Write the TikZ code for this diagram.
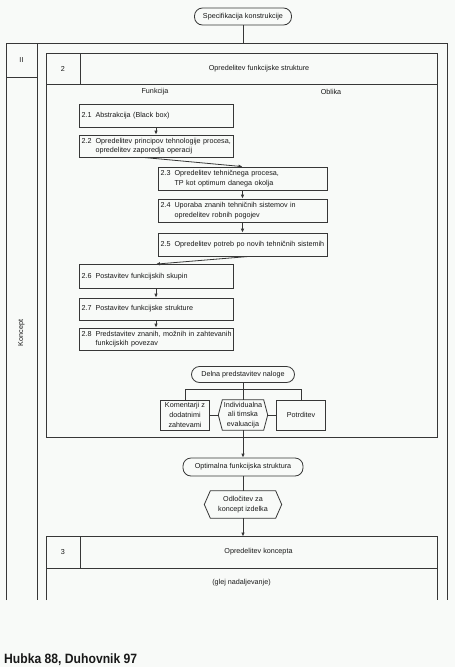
\documentclass[tikz,border=0pt]{standalone}
\usepackage{fontspec}
\setmainfont{Liberation Sans}
\usepackage{graphicx}
\usetikzlibrary{arrows.meta}
\definecolor{bg}{RGB}{248,250,248}
\definecolor{ln}{RGB}{55,55,55}
\definecolor{tx}{RGB}{25,25,25}
\newcommand\numtxt[2]{\begin{tabular}{@{}l@{\hspace{4pt}}l@{}}#1&#2\end{tabular}}
\newcommand\hexpath[2]{\draw[ln, line width=0.8pt] (#1.west) -- ([xshift=#2]#1.north west) -- ([xshift=-#2]#1.north east) -- (#1.east) -- ([xshift=-#2]#1.south east) -- ([xshift=#2]#1.south west) -- cycle;}
\begin{document}
\begin{tikzpicture}[x=1pt,y=-1pt,
  font=\fontsize{7.2}{9.3}\selectfont,
  every node/.style={text=tx},
  frame/.style={draw=ln, line width=0.8pt},
  numbox/.style={draw=ln, line width=0.8pt, inner xsep=2.5pt, inner ysep=0pt, align=left},
  wA/.style={text width=149pt},
  wB/.style={text width=164pt},
  cbox/.style={draw=ln, line width=0.8pt, inner sep=1pt, align=center, font=\fontsize{7.2}{9.7}\selectfont},
  hexbox/.style={inner sep=1pt, align=center, font=\fontsize{7.2}{9.7}\selectfont},
  term/.style={draw=ln, line width=0.8pt, rounded corners=8pt, inner sep=1pt},
  arr/.style={ln, line width=0.8pt, -{Latex[length=4pt,width=3.6pt]}},
  con/.style={ln, line width=0.8pt}]
\fill[bg] (0,0) rectangle (455,667);
\useasboundingbox (0,0) rectangle (455,667);

% top terminal
\node[term, minimum width=97pt, minimum height=17pt] (spec) at (243,16.5) {Specifikacija konstrukcije};

% outer frame
\coordinate (ftop) at (243,43);
\draw[frame] (6,600) -- (6,43) -- (447,43) -- (447,600);
\draw[frame] (37,43) -- (37,600);
\draw[frame] (6,77) -- (37,77);
\node (roman) at (21.5,60) {II};
\node[rotate=90] (koncept) at (21.5,333) {Koncept};

% box 2
\draw[frame] (46,53) rectangle (437.5,437);
\draw[frame] (46,84) -- (437.5,84);
\draw[frame] (80,53) -- (80,84);
\node (n2) at (63,68.5) {2};
\node (t2) at (259,68.5) {Opredelitev funkcijske strukture};
\node (funk) at (155,91.5) {Funkcija};
\node (obl) at (331,91.5) {Oblika};

\node[numbox, wA, minimum height=23pt] (b21) at (156,115.5) {\numtxt{2.1}{Abstrakcija (Black box)}};
\node[numbox, wA, minimum height=22pt] (b22) at (156,146) {\numtxt{2.2}{Opredelitev principov tehnologije procesa,\\ & opredelitev zaporedja operacij}};
\node[numbox, wB, minimum height=23pt] (b23) at (242.5,178.5) {\numtxt{2.3}{Opredelitev tehničnega procesa,\\ & TP kot optimum danega okolja}};
\node[numbox, wB, minimum height=23pt] (b24) at (242.5,210.5) {\numtxt{2.4}{Uporaba znanih tehničnih sistemov in\\ & opredelitev robnih pogojev}};
\node[numbox, wB, minimum height=23pt] (b25) at (242.5,244.5) {\numtxt{2.5}{Opredelitev potreb po novih tehničnih sistemih}};
\node[numbox, wA, minimum height=24pt] (b26) at (156,276.5) {\numtxt{2.6}{Postavitev funkcijskih skupin}};
\node[numbox, wA, minimum height=22pt] (b27) at (156,309) {\numtxt{2.7}{Postavitev funkcijske strukture}};
\node[numbox, wA, minimum height=22pt] (b28) at (156,339) {\numtxt{2.8}{Predstavitev znanih, možnih in zahtevanih\\ & funkcijskih povezav}};

\node[term, minimum width=103pt, minimum height=16pt] (delna) at (243,374.5) {Delna predstavitev naloge};
\coordinate (j) at (243,389.5);
\node[cbox, minimum width=49pt, minimum height=30pt] (kom) at (185,415) {Komentarji z\\dodatnimi\\zahtevami};
\node[hexbox, minimum width=49pt, minimum height=30pt] (ind) at (243,415) {Individualna\\ali timska\\evaluacija};
\node[cbox, minimum width=49pt, minimum height=30pt] (pot) at (301,415) {Potrditev};
\hexpath{ind}{4pt}

\node[term, minimum width=120pt, minimum height=18pt] (opt) at (243,467) {Optimalna funkcijska struktura};
\node[hexbox, minimum width=77pt, minimum height=27pt] (odl) at (243,504.5) {Odločitev za\\koncept izdelka};
\hexpath{odl}{6pt}

% box 3
\coordinate (b3top) at (243,536.5);
\draw[frame] (46,600) -- (46,536.5) -- (437.5,536.5) -- (437.5,600);
\draw[frame] (46,568) -- (437.5,568);
\draw[frame] (80,536.5) -- (80,568);
\node (n3) at (63,552) {3};
\node (t3) at (258.5,552) {Opredelitev koncepta};
\node (glej) at (241.5,583) {(glej nadaljevanje)};

% connectors
\draw[con] (spec.south) -- (spec.south |- ftop);
\draw[arr] (b21) -- (b22);
\draw[arr] ([xshift=-13pt]b22.south) -- (b23.north);
\draw[arr] (b23) -- (b24);
\draw[arr] (b24) -- (b25);
\draw[arr] ([xshift=7pt]b25.south) -- (b26.north);
\draw[arr] (b26) -- (b27);
\draw[arr] (b27) -- (b28);
\draw[con] (delna.south) -- (ind.north);
\draw[con] (kom.north) -- (kom.north |- j) -- (pot.north |- j) -- (pot.north);
\draw[con] (kom.east) -- (ind.west);
\draw[con] (ind.east) -- (pot.west);
\draw[arr] (ind.south) -- (opt.north);
\draw[con] (opt.south) -- (odl.north);
\draw[arr] (odl.south) -- (odl.south |- b3top);

% caption
\node[anchor=base west, inner sep=0pt, font=\fontsize{13.5}{15}\selectfont\bfseries] (cap) at (4,663) {\scalebox{0.9}[1]{Hubka 88, Duhovnik 97}};
\end{tikzpicture}
\end{document}
